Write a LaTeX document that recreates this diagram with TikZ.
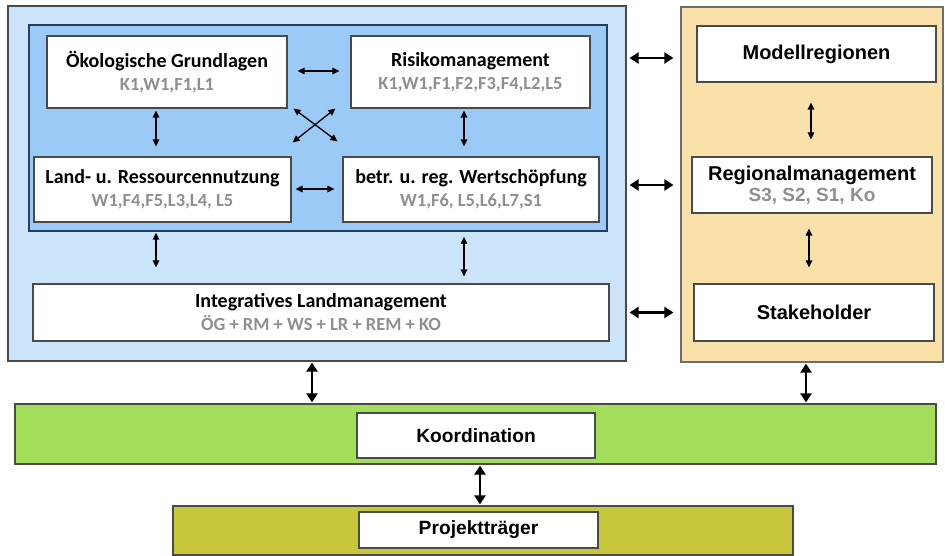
\documentclass[tikz,border=0pt]{standalone}
\usepackage{fontspec}
\newfontfamily\calfont{Carlito}
\newfontfamily\arifont{Liberation Sans}
\usetikzlibrary{arrows.meta,calc}
\definecolor{lightblue}{HTML}{CCE4FA}
\definecolor{midblue}{HTML}{9CCAF6}
\definecolor{tanbg}{HTML}{FAE1A9}
\definecolor{greenbg}{HTML}{A3DE5B}
\definecolor{olivebg}{HTML}{C8C63A}
\definecolor{graytext}{HTML}{8F8F8F}
\definecolor{bordergray}{HTML}{4A4A4A}
\definecolor{navy}{HTML}{24405E}
\tikzset{
  x=1pt, y=-1pt,
  panel/.style={draw=bordergray, line width=1.2pt, inner sep=0pt},
  wbox/.style={draw=bordergray, line width=1.2pt, fill=white, inner sep=0pt, align=center},
  calbox/.style={wbox, font=\calfont\bfseries\fontsize{20}{23}\selectfont},
  aribox/.style={wbox, font=\arifont\bfseries\fontsize{20}{21.5}\selectfont},
  botbox/.style={wbox, font=\arifont\bfseries\fontsize{19.2}{21}\selectfont},
  thinarrow/.style={line width=1.3pt, {Triangle[length=7pt,width=6.5pt]}-{Triangle[length=7pt,width=6.5pt]}},
  thickarrow/.style={line width=2.8pt, {Triangle[length=9pt,width=11pt]}-{Triangle[length=9pt,width=11pt]}},
}
\newcommand{\calsub}[1]{{\color{graytext}\fontsize{18.5}{23}\selectfont #1}}
\newcommand{\arisub}[1]{{\color{graytext}\fontsize{19}{21.5}\selectfont #1}}
\begin{document}
\begin{tikzpicture}
\useasboundingbox (0,0) rectangle (945,556);
% panels
\node[panel, fill=lightblue, minimum width=618pt, minimum height=355pt] (lb) at (317,183.5) {};
\node[panel, draw=navy, line width=1.5pt, fill=midblue, minimum width=578pt, minimum height=206pt] (mb) at (318,128) {};
\node[panel, draw=bordergray!80, fill=tanbg, minimum width=262pt, minimum height=355pt] (tan) at (812,184.5) {};
\node[panel, fill=greenbg, minimum width=921pt, minimum height=60pt] (green) at (475.5,434) {};
\node[panel, fill=olivebg, minimum width=620pt, minimum height=49pt] (olive) at (483,530.5) {};
% blue boxes
\node[calbox, minimum width=240pt, minimum height=72pt] (OG) at (167,72) {Ökologische Grundlagen\\\calsub{K1,W1,F1,L1}};
\node[calbox, minimum width=239pt, minimum height=72pt] (RM) at (470.5,72) {Risikomanagement\\\calsub{K1,W1,F1,F2,F3,F4,L2,L5}};
\node[calbox, minimum width=257pt, minimum height=65pt] (LR) at (162.5,189.5) {Land- u. Ressourcennutzung\\\calsub{W1,F4,F5,L3,L4, L5}};
\node[calbox, minimum width=256pt, minimum height=65pt] (WS) at (471,189.5) {betr. u. reg. Wertschöpfung\\\calsub{W1,F6, L5,L6,L7,S1}};
\node[calbox, minimum width=576pt, minimum height=57pt] (IL) at (321,312.5) {Integratives Landmanagement\\\calsub{ÖG + RM + WS + LR + REM + KO}};
% tan boxes
\node[aribox, minimum width=239pt, minimum height=56pt] (MR) at (816.5,54) {Modellregionen};
\node[aribox, minimum width=240pt, minimum height=56pt] (RG) at (812,185) {Regionalmanagement\\\arisub{S3, S2, S1, Ko}};
\node[aribox, minimum width=240pt, minimum height=57pt] (SH) at (814,312.5) {Stakeholder};
% bottom boxes
\node[botbox, minimum width=238pt, minimum height=45pt] (KO) at (476,435.5) {Koordination};
\node[botbox, minimum width=239pt, minimum height=36pt] (PT) at (478.5,530) {Projektträger};
% thin arrows in blue area
\draw[thinarrow] ($(OG.east)+(10,-1)$) -- ($(RM.west)+(-11,-1)$);
\draw[thinarrow] ($(LR.east)+(4,-0.5)$) -- ($(WS.west)+(-8,-0.5)$);
\draw[thinarrow] ($(OG.south)+(-11,2)$) -- ($(LR.north)+(-6.5,-10)$);
\draw[thinarrow] ($(RM.south)+(-6.5,2)$) -- ($(WS.north)+(-7,-10)$);
\draw[thinarrow] ($(OG.south east)+(6,0)$) -- ($(WS.north west)+(-5,-15)$);
\draw[thinarrow] ($(LR.north east)+(1,-14)$) -- ($(RM.south west)+(-15,0)$);
\draw[thinarrow] ($(mb.south)+(-162,1)$) -- ($(IL.north)+(-165,-16)$);
\draw[thinarrow] ($(mb.south)+(146,5)$) -- ($(IL.north)+(143,-7)$);
% thin arrows in tan area
\draw[thinarrow] ($(MR.south)+(-5.5,20)$) -- ($(RG.north)+(-1,-17)$);
\draw[thinarrow] ($(RG.south)+(-3,15)$) -- ($(SH.north)+(-5,-16)$);
% thick arrows
\draw[thickarrow] ($(lb.east |- MR)+(3,4)$) -- ($(tan.west |- MR)+(-7,4)$);
\draw[thickarrow] ($(lb.east |- RG)+(3,0)$) -- ($(tan.west |- RG)+(-7,0)$);
\draw[thickarrow] ($(lb.east |- SH)+(3,0)$) -- ($(tan.west |- SH)+(-7,0)$);
\draw[thickarrow] ($(lb.south)+(-5,1)$) -- ($(green.north)+(-163.5,-1)$);
\draw[thickarrow] ($(tan.south)+(-6,1)$) -- ($(green.north)+(330.5,-1)$);
\draw[thickarrow] ($(green.south)+(4.5,1)$) -- ($(olive.north)+(-3,-1)$);
\end{tikzpicture}
\end{document}
